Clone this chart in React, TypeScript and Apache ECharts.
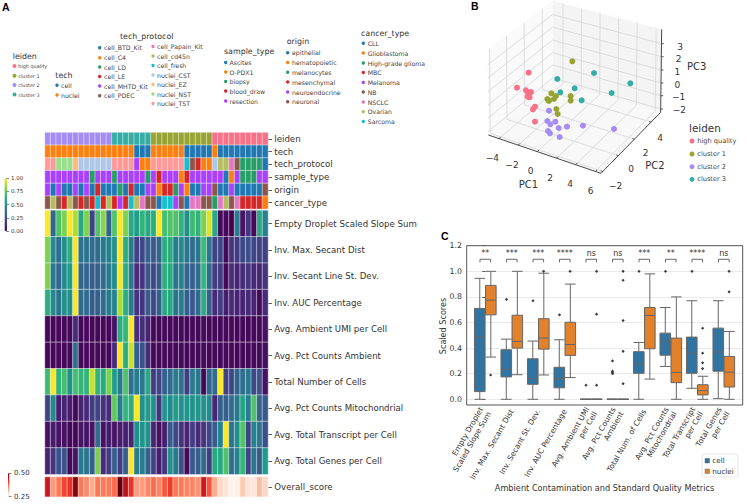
import React, { useEffect, useRef } from "react";
import * as echarts from "echarts";

const FONT = "'DejaVu Sans', sans-serif";
const columns = Array.from({ length: 40 }, (_, i) => String(i));

const LEIDEN = ["high quality", "cluster 1", "cluster 2", "cluster 3"];
const TECH = ["cell", "nuclei"];
const PROTOCOL = ["cell_BTD_Kit", "cell_C4", "cell_LD", "cell_LE", "cell_MHTD_Kit", "cell_PDEC", "cell_Papain_Kit", "cell_cd45n", "cell_fresh", "nuclei_CST", "nuclei_EZ", "nuclei_NST", "nuclei_TST"];
const SAMPLE = ["Ascites", "O-PDX1", "biopsy", "blood_draw", "resection"];
const ORIGIN = ["epithelial", "hematopoietic", "melanocytes", "mesenchymal", "neuroendocrine", "neuronal"];
const CANCER = ["CLL", "Glioblastoma", "High-grade glioma", "MBC", "Melanoma", "NB", "NSCLC", "Ovarian", "Sarcoma"];
const leidenColors = ["#f77189", "#97a431", "#a48cf4", "#36ada4"];
const scanpyColors = ["#1f77b4", "#ff7f0e", "#279e68", "#d62728", "#aa40fc", "#8c564b", "#e377c2", "#b5bd61", "#17becf", "#aec7e8", "#ffbb78", "#98df8a", "#ff9896"];

// Annotation rows, as indices into the lists above
const leidenRow = [2,2,2,2,2,2,2,2,2,2,2,2,3,3,3,3,3,3,3,1,1,1,1,1,1,1,1,1,1,1,0,0,0,0,0,0,0,0,0,0];
const techRow = [1,1,1,1,1,1,1,1,1,1,1,1,1,1,1,1,0,0,0,1,1,1,1,1,1,0,0,0,0,0,1,0,0,0,0,0,0,0,0,0];
const protocolRow = [12,12,11,11,11,10,9,9,9,9,9,9,12,12,12,12,4,1,1,12,12,12,12,12,12,8,5,3,1,1,9,7,7,6,5,2,2,2,2,0];
const sampleRow = [4,4,4,4,4,4,4,4,2,4,4,4,2,4,4,4,4,4,2,4,3,4,4,4,1,3,4,4,4,4,4,4,0,1,4,2,2,2,4,4];
const originRow = [4,0,4,0,0,4,0,4,0,3,0,0,0,2,0,3,0,0,4,4,1,3,3,2,4,1,0,0,4,4,5,0,0,4,0,0,0,0,0,5];
const cancerRow = [5,7,5,3,7,5,3,5,3,8,3,7,3,4,3,8,7,6,5,5,0,8,8,4,5,0,6,6,5,5,2,6,7,5,6,3,3,3,3,1];

// Continuous rows
const emptyDroplet = [1,.33,.72,.8,1,.88,.6,.8,.2,.72,.82,.32,.72,1,.8,.6,.55,.65,.6,.62,1,.7,.72,.72,.65,.5,.68,.65,.8,.95,.6,.02,.02,0,.42,.05,.15,.02,.6,.45];
const invMaxSecant = [.8,.48,.35,.5,.62,1,.38,.38,.35,.35,.4,.45,.5,1,.62,.42,.2,.22,.32,.28,.32,.62,.62,.42,.48,.38,.35,.4,.68,.4,.2,.22,.02,.15,.18,.22,.25,.22,.2,.2];
const invSecantLine = [.8,.42,.32,.48,.55,1,.33,.32,.3,.3,.35,.42,.48,1,.62,.4,.12,.15,.28,.22,.28,.62,.62,.38,.45,.32,.3,.35,.66,.35,.18,.18,.02,.12,.1,.12,.15,.12,.1,.15];
const invAuc = [.62,.48,.38,.5,.5,1,.35,.35,.3,.3,.35,.42,.45,.88,.62,.42,.15,.15,.3,.22,.3,.6,.6,.38,.42,.3,.28,.35,.62,.3,.12,.18,.08,.12,.1,.1,.12,.1,.02,.12];
const ambientUmi = [.02,.02,.02,.02,.02,.12,.02,.02,.02,.02,.02,.02,.05,.62,.66,1,.13,.13,.1,.02,.02,.02,.02,.02,.02,.02,.02,.02,.02,.02,.02,.02,.02,.02,.02,.02,.02,.02,.02,.05];
const pctAmbient = [.02,.02,.02,.02,.02,.38,.02,.02,.02,.02,.02,.02,.12,1,.62,.92,.3,.25,.12,.02,.02,.02,.02,.02,.02,.02,.02,.02,.02,.02,.02,.02,.02,.02,.02,.02,.02,.02,.02,.04];
const totalCells = [.68,1,.65,.7,.5,.7,.66,.65,.92,.65,.6,.8,.55,.42,.72,.38,.42,.4,.6,.18,.22,.3,.35,.42,.38,.18,.4,.4,.02,.33,.35,1,.2,.22,.32,.35,.4,.22,.25,.05];
const pctMito = [.2,.48,.08,.1,.08,.02,.1,.12,.18,.2,.14,.12,.75,.42,.66,.62,1,.5,.55,.5,.15,.52,.48,.55,.5,.52,.5,.52,.5,.48,.1,.3,.3,.35,.4,.58,.42,.72,.32,.28];
const totalTranscript = [.05,.08,.05,.05,.02,.02,.06,.05,.05,.35,.05,.08,.05,.08,.08,.1,.5,.52,.5,.1,.05,.08,.3,.22,.15,.1,.18,.12,.15,.22,.3,.45,1,.38,.5,.72,.2,.45,.4,.25];
const totalGenes = [.1,.15,.25,.25,.02,.05,.4,.38,.3,.8,.12,.18,.3,.18,.3,1,.42,.42,.3,.2,.08,.15,.5,.4,.25,.02,.28,.3,.35,.18,.6,.6,.72,.35,.45,.66,.2,.4,.28,.55];
const overallScore = [.438,.338,.363,.4,.413,.488,.363,.35,.325,.363,.363,.363,.375,.5,.45,.413,.338,.338,.355,.375,.355,.388,.405,.363,.363,.355,.355,.345,.438,.388,.325,.288,.275,.255,.258,.3,.275,.27,.313,.288];

const annotationLabels = ["leiden", "tech", "tech_protocol", "sample_type", "origin", "cancer_type"];
const metricLabels = ["Empty Droplet Scaled Slope Sum", "Inv. Max. Secant Dist", "Inv. Secant Line St. Dev.", "Inv. AUC Percentage", "Avg. Ambient UMI per Cell", "Avg. Pct Counts Ambient", "Total Number of Cells", "Avg. Pct Counts Mitochondrial", "Avg. Total Transcript per Cell", "Avg. Total Genes per Cell"];
const metricRows = [emptyDroplet, invMaxSecant, invSecantLine, invAuc, ambientUmi, pctAmbient, totalCells, pctMito, totalTranscript, totalGenes];

const viridis = ["#440154", "#482878", "#3e4989", "#31688e", "#26828e", "#1f9e89", "#35b779", "#6ece58", "#b5de2b", "#fde725"];
const reds = ["#fff5f0", "#fee0d2", "#fcbba1", "#fc9272", "#fb6a4a", "#ef3b2c", "#cb181d", "#a50f15", "#67000d"];

// Panel B: points as they fall on the flattened 3-D view (picture coordinates, 921x660 space)
const hqPts = [[266,218],[231,263],[258,271],[273,276],[265,283],[269,292],[263,290],[285,320],[279,328],[285,365]];
const c1Pts = [[397,184],[334,280],[348,288],[342,297],[322,297],[327,303],[325,300],[392,288],[392,302],[349,327],[353,342]];
const c2Pts = [[327,332],[322,363],[346,365],[331,373],[356,384],[381,380],[429,377],[522,387],[324,393],[330,400],[359,411]];
const c3Pts = [[352,237],[462,219],[571,250],[361,277],[404,265],[515,279],[425,301]];
const pc1Ticks = ["−4", "−2", "0", "2", "4", "6"];
const pc2Ticks = ["−2", "0", "2", "4"];
const pc3Ticks = ["3", "2", "1", "0", "−1", "−2"];

// Panel C
const boxMetrics = ["Empty Droplet\nScaled Slope Sum", "Inv. Max. Secant Dist", "Inv. Secant St. Dev.", "Inv. AUC Percentage", "Avg. Ambient UMI\nper Cell", "Avg. Pct Counts\nAmbient", "Total Num. of Cells", "Avg. Pct Counts\nMitochondrial", "Total Transcript\nper Cell", "Total Genes\nper Cell"];
const cellBoxes = [[0,.06,.483,.71,.945],[0,.175,.234,.387,.47],[0,.117,.163,.317,.455],[0,.09,.163,.25,.465],[0,0,0,0,0],[0,0,0,0,0],[0,.203,.275,.372,.444],[.257,.345,.455,.517,.717],[.086,.203,.36,.486,.77],[.005,.22,.37,.556,.77]];
const nucleiBoxes = [[.33,.66,.775,.89,1],[.192,.4,.452,.657,1],[.19,.392,.478,.63,.985],[.17,.343,.428,.602,.9],[0,0,0,0,0],[0,0,0,0,0],[.158,.395,.655,.717,.98],[0,.13,.21,.478,.8],[0,.034,.068,.114,.18],[0,.096,.212,.335,.53]];
const cellOutliers = [[],[.78],[.77],[.66],[.11],[.3,.22,.21,.2],[1],[1],[1],[]];
const nucleiOutliers = [[.19],[],[1],[1],[.11,.665,1],[.122,.375,.615,.93,1],[],[],[.24,.285,.36,.555],[.84,1]];
const significance = ["**", "***", "***", "****", "ns", "ns", "***", "**", "****", "ns"];

const ink = "#333";

function txt(text: string, x: number, y: number, size: number, extra: any = {}) {
  const { fill = ink, align = "left", weight = "normal", family = FONT, rotation = 0, z = 20 } = extra;
  return {
    type: "text", x, y, rotation, z, silent: true,
    style: { text, fill, font: `${weight} ${size}px ${family}`, textAlign: align, textVerticalAlign: "middle" },
  };
}
const dot = (cx: number, cy: number, r: number, fill: string) => ({ type: "circle", z: 20, silent: true, shape: { cx, cy, r }, style: { fill } });
const seg = (a: number[], b: number[], stroke: string, lineWidth: number, z = 1) => ({
  type: "line", z, silent: true, shape: { x1: a[0], y1: a[1], x2: b[0], y2: b[1] }, style: { stroke, lineWidth },
});

function legendA(title: string, items: string[], colors: string[], tx: number, ty: number, dx: number, ys: number[], tOff: number, size: number, r = 1.7) {
  const out: any[] = [txt(title, tx, ty, 7.9)];
  items.forEach((n, i) => {
    out.push(dot(dx, ys[i], r, colors[i]));
    out.push(txt(n, dx + tOff, ys[i], size, { fill: "#444" }));
  });
  return out;
}

function panelBDecor() {
  const P = (x: number, y: number) => [440 + x / 3, y / 3];
  const F0 = [145, 405], F1 = [483, 520], F2 = [662, 337], F3 = [338, 243];
  const C0 = [143, 150], C2 = [665, 88], C3 = [338, 2];
  const mix = (a: number[], b: number[], t: number) => [a[0] + (b[0] - a[0]) * t, a[1] + (b[1] - a[1]) * t];
  const Q = (p: number[]) => P(p[0], p[1]);
  const poly = (pts: number[][], fill: string) => ({ type: "polygon", z: 0, silent: true, shape: { points: pts.map(Q) }, style: { fill } });
  const out: any[] = [poly([C0, C3, F3, F0], "#fafafa"), poly([C3, C2, F2, F3], "#f4f4f4"), poly([F0, F3, F2, F1], "#f8f8f8")];
  const gridC = "#d9d9d9";
  // PC1 grid lines
  const t1 = [0.095, 0.265, 0.435, 0.605, 0.775, 0.95];
  t1.forEach((t) => {
    const fr = mix(F0, F1, t), bk = mix(F3, F2, t), tp = mix(C3, C2, t);
    out.push(seg(Q(fr), Q(bk), gridC, 0.9), seg(Q(bk), Q(tp), gridC, 0.9));
    out.push(seg(Q(fr), Q([fr[0] + 5, fr[1] - 5]), "#333", 0.8, 3));
  });
  // PC2 grid lines
  const t2 = [0.03, 0.29, 0.56, 0.84];
  t2.forEach((t) => {
    const fr = mix(F1, F2, t), bk = mix(F0, F3, t), tp = mix(C0, C3, t);
    out.push(seg(Q(fr), Q(bk), gridC, 0.9), seg(Q(bk), Q(tp), gridC, 0.9));
    out.push(seg(Q(fr), Q([fr[0] - 6, fr[1] - 2]), "#333", 0.8, 3));
  });
  // PC3 grid lines
  const t3 = [0.173, 0.33, 0.49, 0.647, 0.8, 0.96];
  t3.forEach((t) => {
    const r = mix(C2, F2, t), b = mix(C3, F3, t), l = mix(C0, F0, t);
    out.push(seg(Q(r), Q(b), gridC, 0.9), seg(Q(b), Q(l), gridC, 0.9));
    out.push(seg(Q(r), Q([r[0] + 7, r[1]]), "#333", 0.8, 3));
  });
  out.push(seg(Q(F0), Q(F1), "#333", 0.9, 3), seg(Q(F1), Q(F2), "#333", 0.9, 3), seg(Q(C2), Q(F2), "#333", 0.9, 3));
  const lab1 = [[157,475],[216,495],[272,513],[330,533],[390,553],[452,573]];
  pc1Ticks.forEach((s, i) => { const p = Q(lab1[i]); out.push(txt(s, p[0], p[1], 9, { align: "center" })); });
  const lab2 = [[527,558],[573,507],[617,460],[660,415]];
  pc2Ticks.forEach((s, i) => { const p = Q(lab2[i]); out.push(txt(s, p[0], p[1], 9, { align: "center" })); });
  const lab3 = [[720,140],[716,178],[712,215],[712,254],[716,292],[718,330]];
  pc3Ticks.forEach((s, i) => { const p = Q(lab3[i]); out.push(txt(s, p[0], p[1], 9, { align: "center" })); });
  out.push(txt("PC1", 440 + 265 / 3, 553 / 3, 10, { align: "center" }));
  out.push(txt("PC2", 440 + 645 / 3, 495 / 3, 10, { align: "center" }));
  out.push(txt("PC3", 440 + 770 / 3, 198 / 3, 10, { align: "center" }));
  // legend
  out.push(txt("leiden", 689, 127.7, 10.4));
  [141, 154, 166.7, 179.3].forEach((y, i) => {
    out.push(dot(692, y, 2.5, leidenColors[i]));
    out.push(txt(LEIDEN[i], 697.3, y, 6.6, { fill: "#444" }));
  });
  return out;
}

function buildGraphic() {
  const els: any[] = [];
  els.push(txt("A", 2, 7, 10.5, { weight: "bold", family: "'Liberation Sans', sans-serif", fill: "#000" }));
  els.push(txt("B", 471, 6, 10.5, { weight: "bold", family: "'Liberation Sans', sans-serif", fill: "#000" }));
  els.push(txt("C", 441, 236, 10.5, { weight: "bold", family: "'Liberation Sans', sans-serif", fill: "#000" }));

  els.push(...legendA("leiden", LEIDEN, leidenColors, 12.7, 56, 14.5, [66, 75.7, 85, 94.5], 3.8, 4.9, 2));
  els.push(...legendA("tech", TECH, scanpyColors, 55.3, 75, 57, [85.3, 95], 4, 6.2));
  els.push(...legendA("tech_protocol", PROTOCOL.slice(0, 6), scanpyColors, 120, 36, 99.7, [47.7, 57.7, 67, 76.5, 86, 95.7], 4.3, 6.2));
  PROTOCOL.slice(6).forEach((n, i) => {
    const y = [46.5, 56, 65.5, 75, 84.5, 94, 103.5][i];
    els.push(dot(153, y, 1.7, scanpyColors[i + 6]));
    els.push(txt(n, 157, y, 6.2, { fill: "#444" }));
  });
  els.push(...legendA("sample_type", SAMPLE, scanpyColors, 224, 51, 225.7, [62.5, 72, 81.5, 91, 101], 3.8, 6.2));
  els.push(...legendA("origin", ORIGIN, scanpyColors, 286.7, 41.7, 287.7, [52.7, 62.5, 72.3, 82, 92, 101.7], 4.3, 6.2));
  els.push(...legendA("cancer_type", CANCER, scanpyColors, 361, 33, 363.3, [43.3, 53, 63, 72.5, 82.5, 92, 102, 111.7, 121.5], 4.4, 6.2));

  els.push(...panelBDecor());

  // Panel C chrome
  els.push({ type: "rect", z: 15, silent: true, shape: { x: 466.7, y: 245.7, width: 276, height: 159.3 }, style: { fill: "none", stroke: "#555", lineWidth: 1 } });
  els.push(txt("Scaled Scores", 443, 326, 8.1, { align: "center", rotation: Math.PI / 2 }));
  els.push(txt("Ambient Contamination and Standard Quality Metrics", 604.5, 488, 8.2, { align: "center" }));
  els.push({ type: "rect", z: 19, silent: true, shape: { x: 702, y: 454, width: 36, height: 23, r: 1.5 }, style: { fill: "rgba(255,255,255,0.8)", stroke: "#ddd", lineWidth: 0.7 } });
  els.push({ type: "rect", z: 20, silent: true, shape: { x: 705, y: 458.5, width: 4.5, height: 4.5 }, style: { fill: "#3274a1", stroke: "#555", lineWidth: 0.4 } });
  els.push({ type: "rect", z: 20, silent: true, shape: { x: 705, y: 469, width: 4.5, height: 4.5 }, style: { fill: "#e1812c", stroke: "#555", lineWidth: 0.4 } });
  els.push(txt("cell", 712.3, 460.7, 7.2));
  els.push(txt("nuclei", 712.3, 471.3, 7.2));
  return els;
}

const cellBorder = { borderColor: "rgba(255,255,255,0.6)", borderWidth: 0.8 };

function buildOption() {
  // The annotation heatmap maps an index into the joined palette through a hidden visualMap.
  const palette = [...leidenColors, ...scanpyColors];
  const annotationColumns: [number[], number][] = [
    [leidenRow, 0], [techRow, 4], [protocolRow, 4], [sampleRow, 4], [originRow, 4], [cancerRow, 4],
  ];
  const catData: number[][] = [];
  annotationColumns.forEach(([row, off], r) => row.forEach((c, i) => catData.push([i, r, c + off])));
  const mainData: number[][] = [];
  metricRows.forEach((row, r) => row.forEach((v, i) => mainData.push([i, r, v])));
  const overallData = overallScore.map((v, i) => [i, 0, v]);

  const hmXAxis = (gridIndex: number) => ({ type: "category", gridIndex, data: columns, show: false });
  const hmYAxis = (gridIndex: number, data: string[]) => ({
    type: "category", gridIndex, data, inverse: true, position: "right",
    axisLine: { show: false }, axisTick: { show: true, length: 4, lineStyle: { color: "#333", width: 0.8 }, alignWithLabel: true },
    axisLabel: { color: ink, fontFamily: FONT, fontSize: 8.65, margin: 6.3, interval: 0 },
  });
  const scatterS = (name: string, pts: number[][], color: string) => ({
    type: "scatter", name, xAxisIndex: 5, yAxisIndex: 5, data: pts, symbolSize: 6, itemStyle: { color, opacity: 1 }, z: 5,
  });
  const outlierData = (list: number[][], off: number) => list.flatMap((vals, i) => vals.map((v) => [i + off, v]));

  return {
    animation: false,
    backgroundColor: "#fff",
    textStyle: { fontFamily: FONT },
    grid: [
      { left: 45, top: 132.5, width: 223, height: 76.4 },
      { left: 45, top: 210.4, width: 223, height: 263.9 },
      { left: 45, top: 477, width: 223, height: 19.7 },
      { left: 6, top: 178.3, width: 1, height: 52.7 },
      { left: 8.5, top: 473.3, width: 1, height: 23.4 },
      { left: 440, top: 0, width: 307, height: 220 },
      { left: 466.7, top: 245.7, width: 276, height: 153.6 },
      { left: 472.05, top: 245.7, width: 265, height: 159.3 },
    ],
    xAxis: [
      hmXAxis(0), hmXAxis(1), hmXAxis(2),
      { type: "value", gridIndex: 3, show: false, min: 0, max: 1 },
      { type: "value", gridIndex: 4, show: false, min: 0, max: 1 },
      { type: "value", gridIndex: 5, show: false, min: 0, max: 921 },
      { type: "value", gridIndex: 6, show: false, min: -0.702, max: 9.713 },
      {
        type: "category", gridIndex: 7, data: boxMetrics,
        axisLine: { show: false },
        axisTick: { alignWithLabel: true, length: 3, lineStyle: { color: "#333", width: 0.8 } },
        axisLabel: { rotate: 60, interval: 0, fontFamily: FONT, fontSize: 7.6, color: ink, margin: 5, lineHeight: 9 },
      },
    ],
    yAxis: [
      hmYAxis(0, annotationLabels), hmYAxis(1, metricLabels), hmYAxis(2, ["Overall_score"]),
      {
        type: "value", gridIndex: 3, position: "right", min: 0, max: 1, interval: 0.25,
        axisLine: { show: false }, splitLine: { show: false },
        axisTick: { show: true, length: 3, lineStyle: { color: "#333", width: 0.6 } },
        axisLabel: { fontFamily: FONT, fontSize: 5.5, color: ink, margin: 4, formatter: (v: number) => v.toFixed(2) },
      },
      {
        type: "value", gridIndex: 4, position: "right", min: 0.25, max: 0.5, interval: 0.25,
        axisLine: { show: false }, splitLine: { show: false },
        axisTick: { show: true, length: 3, lineStyle: { color: "#333", width: 0.6 } },
        axisLabel: { fontFamily: FONT, fontSize: 7, color: ink, margin: 4.5, formatter: (v: number) => v.toFixed(2) },
      },
      { type: "value", gridIndex: 5, show: false, min: 0, max: 660, inverse: true },
      {
        type: "value", gridIndex: 6, min: 0, max: 1.2, interval: 0.2,
        axisLine: { show: false },
        axisTick: { show: true, length: 3, lineStyle: { color: "#333", width: 0.8 } },
        axisLabel: { fontFamily: FONT, fontSize: 7.8, color: ink, margin: 4.7, formatter: (v: number) => v.toFixed(1) },
        splitLine: { show: true, lineStyle: { color: "#e4e4e4", width: 0.8 } },
      },
      { type: "value", gridIndex: 7, show: false, min: -0.0445, max: 1.2 },
    ],
    visualMap: [
      {
        type: "continuous", seriesIndex: 1, dimension: 2, min: 0, max: 1, inRange: { color: viridis },
        show: true, left: 4.5, top: 178.3, itemWidth: 2.5, itemHeight: 52.7, padding: 0, calculable: false, text: null, hoverLink: false,
        textStyle: { fontSize: 1, color: "rgba(0,0,0,0)" },
      },
      {
        type: "continuous", seriesIndex: 2, dimension: 2, min: 0.25, max: 0.5, inRange: { color: reds },
        show: true, left: 8, top: 473.3, itemWidth: 1.5, itemHeight: 23.4, padding: 0, calculable: false, text: null, hoverLink: false,
        textStyle: { fontSize: 1, color: "rgba(0,0,0,0)" },
      },
      {
        type: "piecewise", seriesIndex: 0, dimension: 2, show: false,
        pieces: palette.map((color, value) => ({ value, color })),
      },
    ],
    graphic: { elements: buildGraphic() },
    series: [
      { type: "heatmap", name: "annotations", xAxisIndex: 0, yAxisIndex: 0, data: catData, itemStyle: cellBorder, emphasis: { disabled: true } },
      { type: "heatmap", name: "metrics", xAxisIndex: 1, yAxisIndex: 1, data: mainData, itemStyle: cellBorder, emphasis: { disabled: true } },
      { type: "heatmap", name: "Overall_score", xAxisIndex: 2, yAxisIndex: 2, data: overallData, itemStyle: cellBorder, emphasis: { disabled: true } },
      scatterS("high quality", hqPts, leidenColors[0]),
      scatterS("cluster 1", c1Pts, leidenColors[1]),
      scatterS("cluster 2", c2Pts, leidenColors[2]),
      scatterS("cluster 3", c3Pts, leidenColors[3]),
      {
        type: "boxplot", name: "cell", xAxisIndex: 7, yAxisIndex: 7, data: cellBoxes, boxWidth: [10.6, 10.6], z: 4,
        itemStyle: { color: "#3274a1", borderColor: "#666", borderWidth: 1 },
      },
      {
        type: "boxplot", name: "nuclei", xAxisIndex: 7, yAxisIndex: 7, data: nucleiBoxes, boxWidth: [10.6, 10.6], z: 4,
        itemStyle: { color: "#e1812c", borderColor: "#666", borderWidth: 1 },
      },
      { type: "scatter", name: "cell outliers", xAxisIndex: 6, yAxisIndex: 6, data: outlierData(cellOutliers, -0.2), symbol: "diamond", symbolSize: 3.2, itemStyle: { color: "#3a3a3a", opacity: 1 }, z: 6 },
      { type: "scatter", name: "nuclei outliers", xAxisIndex: 6, yAxisIndex: 6, data: outlierData(nucleiOutliers, 0.2), symbol: "diamond", symbolSize: 3.2, itemStyle: { color: "#3a3a3a", opacity: 1 }, z: 6 },
      {
        type: "custom", name: "significance", xAxisIndex: 6, yAxisIndex: 6, z: 6,
        data: significance.map((_, i) => [i, 1.07]),
        renderItem: (params: any, api: any) => {
          const i = api.value(0);
          const a = api.coord([i - 0.2, 1.07]);
          const b = api.coord([i - 0.2, 1.094]);
          const c = api.coord([i + 0.2, 1.094]);
          const d = api.coord([i + 0.2, 1.07]);
          const s = significance[params.dataIndex];
          return {
            type: "group",
            children: [
              { type: "polyline", shape: { points: [a, b, c, d] }, style: { stroke: "#444", fill: null, lineWidth: 0.8 } },
              { type: "text", style: { text: s, x: (a[0] + d[0]) / 2, y: b[1] - 6, fill: ink, font: `8px ${FONT}`, textAlign: "center", textVerticalAlign: "middle" } },
            ],
          };
        },
      },
    ],
  };
}

export default function App() {
  const ref = useRef<HTMLDivElement>(null);
  useEffect(() => {
    if (!ref.current) return;
    const chart = echarts.init(ref.current, undefined, { renderer: "svg" });
    chart.setOption(buildOption() as any);
    return () => chart.dispose();
  }, []);
  return <div ref={ref} style={{ position: "absolute", left: 0, top: 0, width: 747, height: 504 }} />;
}
